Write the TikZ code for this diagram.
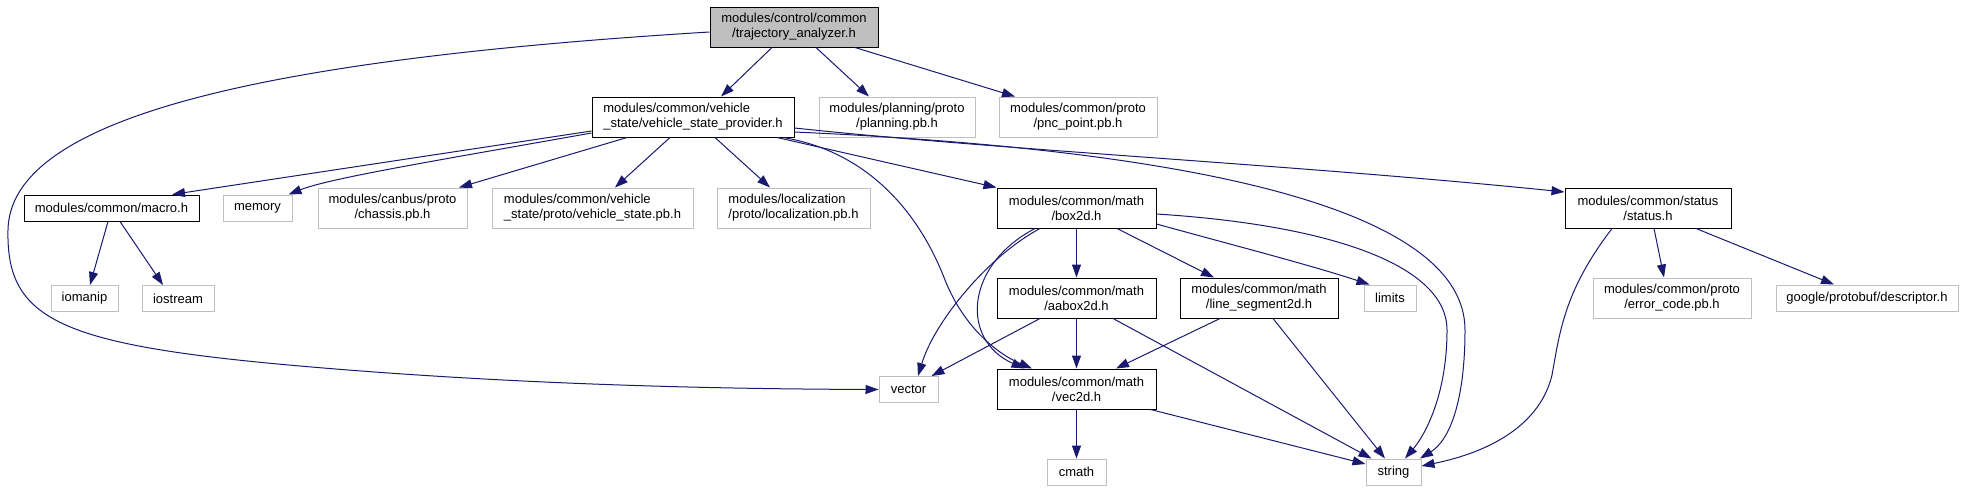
\documentclass[tikz,border=0pt]{standalone}
\usepackage{fontspec}
\setmainfont{Liberation Sans}
\usepackage{tikz}
\usetikzlibrary{arrows.meta}

\definecolor{edgeblue}{HTML}{191970}
\definecolor{sysgray}{HTML}{BFBFBF}

\begin{document}
\begin{tikzpicture}[x=1pt, y=-1pt,
    file/.style={draw=black, line width=1pt, inner sep=0pt, align=center, font=\fontsize{13}{15}\selectfont},
    header/.style={file, fill=sysgray},
    sysfile/.style={file, draw=sysgray},
    twoline/.style={minimum height=40pt},
    oneline/.style={minimum height=26pt},
    dep/.style={draw=edgeblue, line width=1pt, -{Triangle[length=13pt, width=9pt]}}
]
\useasboundingbox (0,0) rectangle (1965,491);

% Root file
\node[header, twoline, minimum width=168pt] (root) at (794,27) {modules/control/common\\/trajectory\_analyzer.h};

% Second row
\node[file, twoline, minimum width=202pt, align=left] (vsp) at (693,117) {modules/common/vehicle\\\_state/vehicle\_state\_provider.h};
\node[sysfile, twoline, minimum width=156pt] (planning) at (897,117) {modules/planning/proto\\/planning.pb.h};
\node[sysfile, twoline, minimum width=158pt] (pnc) at (1078,117) {modules/common/proto\\/pnc\_point.pb.h};

% Third row
\node[file, oneline, minimum width=175pt] (macro) at (111.5,208) {modules/common/macro.h};
\node[sysfile, oneline, minimum width=69pt] (memory) at (257.5,208) {memory};
\node[sysfile, twoline, minimum width=149pt] (chassis) at (392.5,208) {modules/canbus/proto\\/chassis.pb.h};
\node[sysfile, twoline, minimum width=201pt, align=left] (vspb) at (592.5,208) {modules/common/vehicle\\\_state/proto/vehicle\_state.pb.h};
\node[sysfile, twoline, minimum width=153pt, align=left] (loc) at (793.5,208) {modules/localization\\/proto/localization.pb.h};
\node[file, twoline, minimum width=159pt] (box) at (1076.5,208) {modules/common/math\\/box2d.h};
\node[file, twoline, minimum width=166pt] (status) at (1648,208) {modules/common/status\\/status.h};

% Fourth row
\node[sysfile, oneline, minimum width=67pt] (iomanip) at (84.5,298.5) {iomanip};
\node[sysfile, oneline, minimum width=72pt] (iostream) at (178,298.5) {iostream};
\node[file, twoline, minimum width=159pt] (aabox) at (1076.5,298) {modules/common/math\\/aabox2d.h};
\node[file, twoline, minimum width=158pt] (lineseg) at (1259,298) {modules/common/math\\/line\_segment2d.h};
\node[sysfile, oneline, minimum width=52pt] (limits) at (1390,298) {limits};
\node[sysfile, twoline, minimum width=158pt] (errcode) at (1672,298) {modules/common/proto\\/error\_code.pb.h};
\node[sysfile, oneline, minimum width=182pt] (descr) at (1867,298) {google/protobuf/descriptor.h};

% Fifth and sixth rows
\node[sysfile, oneline, minimum width=59pt] (vector) at (908.5,389.5) {vector};
\node[file, twoline, minimum width=159pt] (vec) at (1076.5,389) {modules/common/math\\/vec2d.h};
\node[sysfile, oneline, minimum width=59pt] (cmath) at (1076.5,472) {cmath};
\node[sysfile, oneline, minimum width=55pt] (string) at (1393.5,472) {string};

% Edges from root
\draw[dep] ([xshift=-22pt]root.south) -- ([xshift=28pt]vsp.north);
\draw[dep] ([xshift=22pt]root.south) -- ([xshift=-28pt]planning.north);
\draw[dep] ([xshift=61pt]root.south) -- ([xshift=-63pt]pnc.north);
\draw[dep] ([yshift=-5pt]root.west) .. controls (250,60) and (10,120) .. (8,230)
    .. controls (6,320) and (60,345) .. (300,366)
    .. controls (540,387) and (760,389) .. (vector.west);

% Edges from vehicle_state_provider
\draw[dep] ([yshift=-14pt]vsp.west) -- ([xshift=60.5pt]macro.north);
\draw[dep] ([yshift=-16pt]vsp.west) .. controls (440,160) and (330,178) .. ([xshift=31pt]memory.north);
\draw[dep] ([xshift=-66pt]vsp.south) -- ([xshift=66.5pt]chassis.north);
\draw[dep] ([xshift=-23pt]vsp.south) -- ([xshift=22.5pt]vspb.north);
\draw[dep] ([xshift=22pt]vsp.south) -- ([xshift=-23.5pt]loc.north);
\draw[dep] ([xshift=84pt]vsp.south) -- (box.north west);
\draw[dep] ([xshift=90pt]vsp.south) .. controls (870,152) and (920,215) .. (945,280)
    .. controls (965,330) and (1000,355) .. ([xshift=-44.5pt]vec.north);
\draw[dep] ([yshift=-15pt]vsp.east) .. controls (1200,150) and (1465,210) .. (1465,330)
    .. controls (1465,400) and (1450,440) .. ([xshift=26.5pt]string.north);
\draw[dep] ([yshift=-11pt]vsp.east) .. controls (1000,150) and (1300,165) .. ([yshift=16pt]status.west);

% Edges from macro
\draw[dep] ([xshift=-3.5pt]macro.south) -- ([xshift=5.5pt]iomanip.north);
\draw[dep] ([xshift=8.5pt]macro.south) -- ([xshift=-15pt]iostream.north);

% Edges from box2d
\draw[dep] (box.south) -- (aabox.north);
\draw[dep] ([xshift=40.5pt]box.south) -- ([xshift=-45pt]lineseg.north);
\draw[dep] ([yshift=-16pt]box.east) .. controls (1240,247) and (1310,265) .. ([xshift=6pt]limits.north west);
\draw[dep] ([yshift=-6pt]box.east) .. controls (1330,225) and (1447,265) .. (1447,330)
    .. controls (1447,395) and (1425,435) .. ([xshift=11.5pt]string.north);
\draw[dep] ([xshift=-36.5pt]box.south) .. controls (990,255) and (935,320) .. ([xshift=9.5pt]vector.north);
\draw[dep] ([xshift=-41.5pt]box.south) .. controls (965,265) and (960,340) .. ([xshift=-52pt]vec.north);

% Edges from aabox2d
\draw[dep] ([xshift=-36.5pt]aabox.south) -- ([xshift=-7pt]vector.north east);
\draw[dep] (aabox.south) -- (vec.north);
\draw[dep] ([xshift=36.5pt]aabox.south) -- ([xshift=6pt]string.north west);

% Edges from line_segment2d
\draw[dep] ([xshift=-39pt]lineseg.south) -- ([xshift=39.5pt]vec.north);
\draw[dep] ([xshift=14pt]lineseg.south) -- ([xshift=-8.5pt]string.north);

% Edges from vec2d
\draw[dep] (vec.south) -- (cmath.north);
\draw[dep] ([xshift=-6pt]vec.south east) -- ([yshift=8pt]string.west);

% Edges from status
\draw[dep] ([xshift=-36pt]status.south) .. controls (1565,290) and (1560,330) .. (1552,375)
    .. controls (1540,425) and (1490,452) .. ([yshift=6pt]string.east);
\draw[dep] ([xshift=6pt]status.south) -- ([xshift=-8pt]errcode.north);
\draw[dep] ([xshift=48pt]status.south) -- ([xshift=-33pt]descr.north);

\end{tikzpicture}
\end{document}
